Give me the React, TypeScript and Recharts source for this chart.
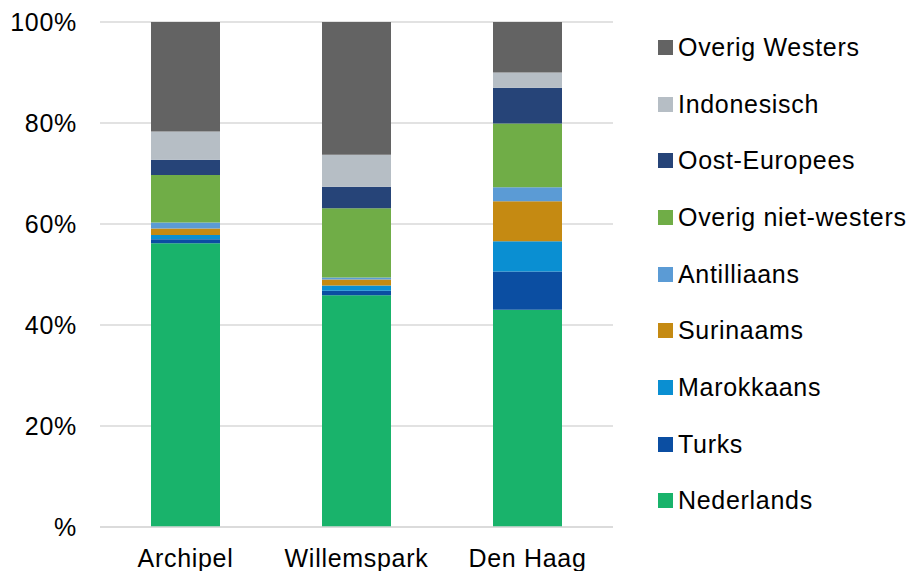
import { BarChart, Bar, XAxis, YAxis, CartesianGrid } from 'recharts';

const categories = ['Archipel', 'Willemspark', 'Den Haag'];

// bottom to top
const nederlands = [56.2, 45.9, 43.0];
const turks = [0.8, 0.9, 7.6];
const marokkaans = [0.8, 1.0, 6.0];
const surinaams = [1.3, 1.2, 7.9];
const antilliaans = [1.2, 0.4, 2.8];
const overigNietWesters = [9.4, 13.7, 12.6];
const oostEuropees = [3.0, 4.3, 7.1];
const indonesisch = [5.6, 6.3, 3.0];
const overigWesters = [21.7, 26.3, 10.0];

const yTicks = [0, 20, 40, 60, 80, 100];

const series = [
  { key: 'Nederlands', values: nederlands, color: '#19b36b' },
  { key: 'Turks', values: turks, color: '#0b4ea2' },
  { key: 'Marokkaans', values: marokkaans, color: '#0a8fd2' },
  { key: 'Surinaams', values: surinaams, color: '#c58a12' },
  { key: 'Antilliaans', values: antilliaans, color: '#5b9bd5' },
  { key: 'Overig niet-westers', values: overigNietWesters, color: '#70ad47' },
  { key: 'Oost-Europees', values: oostEuropees, color: '#264478' },
  { key: 'Indonesisch', values: indonesisch, color: '#b6bec5' },
  { key: 'Overig Westers', values: overigWesters, color: '#636363' },
];

const data = categories.map((name, i) => {
  const row: Record<string, string | number> = { name };
  series.forEach((s) => {
    row[s.key] = s.values[i];
  });
  return row;
});

const font = '"Liberation Sans", Arial, sans-serif';
const textStyle = { fontFamily: font, fontSize: 25, letterSpacing: 0.7, fill: '#000' };

function ChartLegend() {
  const items = [...series].reverse();
  return (
    <div style={{ position: 'absolute', left: 658, top: 19, fontFamily: font }}>
      {items.map((s) => (
        <div key={s.key} style={{ display: 'flex', alignItems: 'center', height: 56.7 }}>
          <span style={{ width: 15, height: 15, background: s.color, marginRight: 5, flexShrink: 0 }} />
          <span style={{ fontSize: 25, letterSpacing: 0.7, color: '#000', whiteSpace: 'nowrap' }}>{s.key}</span>
        </div>
      ))}
    </div>
  );
}

export default function App() {
  return (
    <div style={{ position: 'absolute', left: 0, top: 0, width: 909, height: 571, background: '#fff' }}>
      <BarChart width={909} height={571} data={data} margin={{ top: 22, right: 296, bottom: 0, left: 0 }}>
        <CartesianGrid vertical={false} stroke="#d9d9d9" strokeWidth={1.5} />
        <XAxis
          dataKey="name"
          height={44}
          tickSize={0}
          tickMargin={22}
          axisLine={{ stroke: '#d9d9d9', strokeWidth: 1.5 }}
          tick={textStyle}
        />
        <YAxis
          width={100}
          domain={[0, 100]}
          ticks={yTicks}
          interval={0}
          tickSize={0}
          tickMargin={23}
          axisLine={false}
          tick={textStyle}
          tickFormatter={(v: number) => (v === 0 ? '%' : `${v}%`)}
        />
        {series.map((s) => (
          <Bar key={s.key} dataKey={s.key} stackId="a" fill={s.color} barSize={69} isAnimationActive={false} />
        ))}
      </BarChart>
      <ChartLegend />
    </div>
  );
}
